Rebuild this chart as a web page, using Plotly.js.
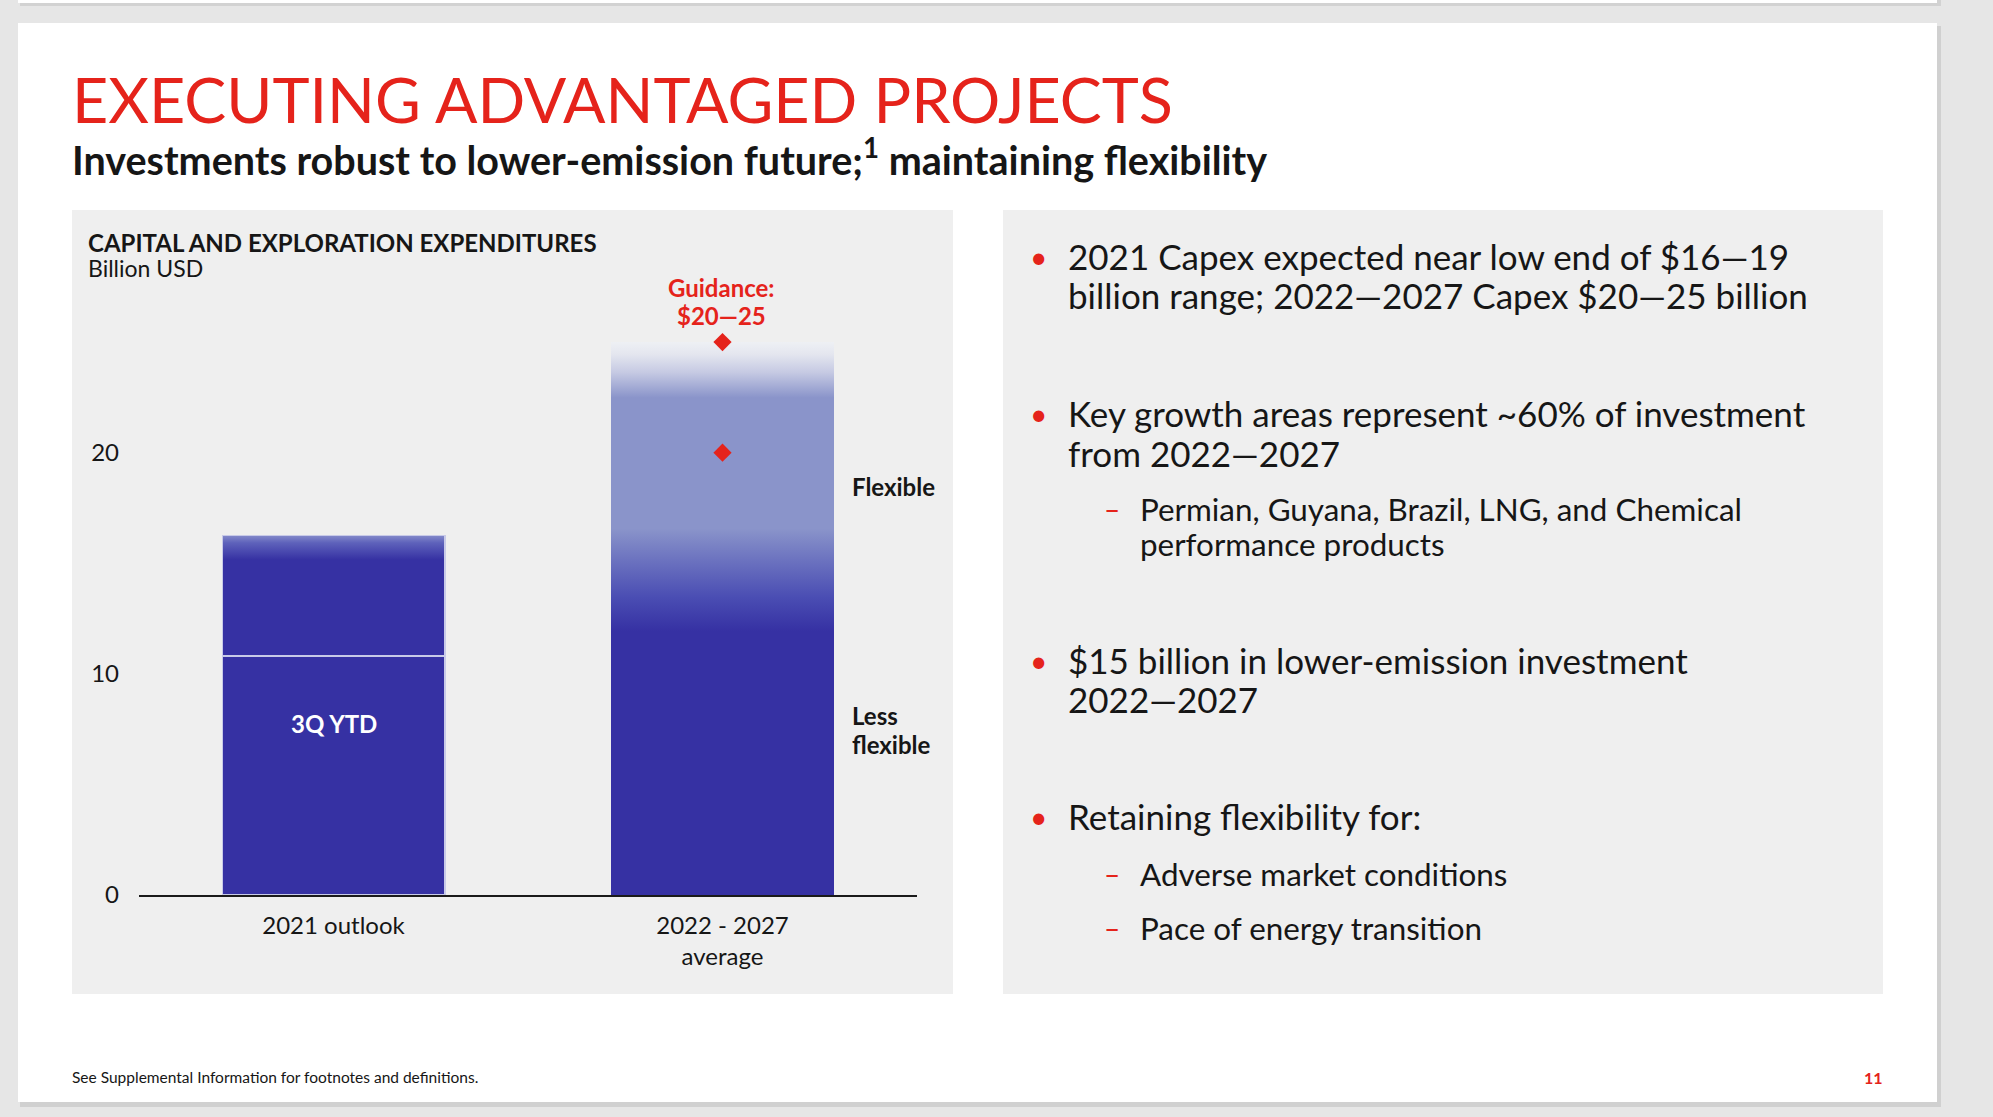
<!DOCTYPE html>
<html>
<head>
<meta charset="utf-8">
<script src="https://cdn.plot.ly/plotly-3.0.1.min.js"></script>
<style>
html,body{margin:0;padding:0;background:#e6e6e6;}
#chart{width:1993px;height:1117px;}
</style>
</head>
<body>
<div id="chart"></div>
<script>
// ---------- DATA ----------
const categories = ['2021 outlook', '2022 - 2027<br>average'];
const lowerValues = [10.8, 11.4];     // 3Q YTD / less flexible (Billion USD)
const upperValues = [5.45, 13.6];     // rest of 2021 outlook / flexible
const guidanceValues = [25, 20];      // guidance range markers
const yTickValues = [0, 10, 20];

const titleText = 'EXECUTING ADVANTAGED PROJECTS';
const subtitleText = 'Investments robust to lower-emission future;<sup>1</sup> maintaining flexibility';
const chartTitle = 'CAPITAL AND EXPLORATION EXPENDITURES';
const unitText = 'Billion USD';
const bullets = [
  ['2021 Capex expected near low end of $16—19', 'billion range; 2022—2027 Capex $20—25 billion'],
  ['Key growth areas represent ~60% of investment', 'from 2022—2027'],
  ['$15 billion in lower-emission investment', '2022—2027'],
  ['Retaining flexibility for:']
];
const subBullets = [
  ['Permian, Guyana, Brazil, LNG, and Chemical', 'performance products'],
  ['Adverse market conditions'],
  ['Pace of energy transition']
];
const footerText = 'See Supplemental Information for footnotes and definitions.';
const pageNumber = '11';

// ---------- STYLE ----------
const FONT = 'Lato, "Noto Sans", sans-serif';
const RED = '#e5231b';
const DARK = '#3631a3';
const LIGHT = '#8a94ca';
const PANEL = '#efefef';
const TXT = '#161616';

// plot area in pixels: x 139..917, y 320..895
const ML = 139, PW = 778, MT = 320, PH = 575;
const W = 1993, H = 1117;
const xp = px => (px - ML) / PW;
const yp = py => (MT + PH - py) / PH;

function ann(text, x, y, size, opts) {
  opts = opts || {};
  return Object.assign({
    text: text, xref: 'paper', yref: 'paper', x: xp(x), y: yp(y),
    xanchor: opts.xanchor || 'left', yanchor: 'middle', showarrow: false,
    font: {family: FONT, size: size, color: opts.color || TXT, weight: opts.weight || 400},
    align: opts.align || 'left'
  }, opts.extra || {});
}

const annotations = [];
annotations.push(ann(titleText, 70, 98, 62.8, {color: RED, weight: 400}));
annotations.push(ann(subtitleText, 70, 157, 39.5, {weight: 700}));
annotations.push(ann(chartTitle, 86, 242, 24, {weight: 700}));
annotations.push(ann(unitText, 86, 268, 23, {weight: 400}));
annotations.push(ann('Guidance:', 721, 287, 24, {xanchor: 'center', color: RED, weight: 700}));
annotations.push(ann('$20—25', 721, 316, 24, {xanchor: 'center', color: RED, weight: 700}));
annotations.push(ann('Flexible', 850, 486, 24, {weight: 700}));
annotations.push(ann('Less', 850, 715, 24, {weight: 700}));
annotations.push(ann('flexible', 850, 744, 24, {weight: 700}));
annotations.push(ann('3Q YTD', 334, 723, 24, {xanchor: 'center', color: '#ffffff', weight: 700}));

// bullets
const bulletY = [[256, 295], [413, 452.5], [659.5, 699], [816]];
bullets.forEach((lines, i) => {
  annotations.push(ann('•', 1038, bulletY[i][0], 30, {xanchor: 'center', color: RED}));
  lines.forEach((ln, j) => annotations.push(ann(ln, 1066, bulletY[i][j], 35, {weight: 400})));
});
const subY = [[509, 544], [874], [928]];
subBullets.forEach((lines, i) => {
  annotations.push(ann('–', 1112, subY[i][0], 28, {xanchor: 'center', color: RED}));
  lines.forEach((ln, j) => annotations.push(ann(ln, 1138, subY[i][j], 31.4, {weight: 400})));
});
annotations.push(ann(footerText, 70, 1077, 15.5, {weight: 400}));
annotations.push(ann(pageNumber, 1873, 1077, 16, {xanchor: 'center', color: RED, weight: 700}));

function rect(x0, y0, x1, y1, color) {
  return {type: 'rect', xref: 'paper', yref: 'paper', layer: 'below',
    x0: xp(x0), x1: xp(x1), y0: yp(y1), y1: yp(y0),
    fillcolor: color, line: {width: 0}};
}
const shapes = [
  rect(20, 0, 1941, 6, '#d2d2d2'),
  rect(18, 0, 1937, 3, '#ffffff'),
  rect(20, 26, 1941, 1107, '#d0d0d0'),
  rect(18, 23, 1937, 1102, '#ffffff'),
  rect(72, 210, 953, 994, PANEL),
  rect(1003, 210, 1883, 994, PANEL)
];

const traces = [
  {type: 'bar', x: categories, y: lowerValues, name: 'Less flexible', width: 0.572,
   marker: {color: DARK, line: {color: '#c8cae8', width: [1.5, 0]}}, hoverinfo: 'skip'},
  {type: 'bar', x: categories, y: upperValues, name: 'Flexible', width: 0.572,
   marker: {color: DARK, line: {color: '#c8cae8', width: [1.5, 0]}}, hoverinfo: 'skip'},
  {type: 'scatter', mode: 'markers', x: [categories[1], categories[1]], y: guidanceValues,
   name: 'Guidance', marker: {symbol: 'diamond', size: 14, color: RED}, hoverinfo: 'skip'}
];

const layout = {
  width: W, height: H,
  margin: {l: ML, r: W - ML - PW, t: MT, b: H - MT - PH, pad: 0},
  paper_bgcolor: '#e6e6e6', plot_bgcolor: 'rgba(0,0,0,0)',
  barmode: 'stack', showlegend: false,
  font: {family: FONT, color: TXT},
  xaxis: {type: 'category', range: [-0.5, 1.5], showgrid: false, zeroline: false,
    showline: true, linecolor: '#1a1a1a', linewidth: 2, ticks: '',
    ticklabelstandoff: 8, tickfont: {family: FONT, size: 24, color: TXT}, fixedrange: true},
  yaxis: {range: [0, 26], tickvals: yTickValues, showgrid: false, zeroline: false,
    showline: false, ticks: '', ticklabelstandoff: 19,
    tickfont: {family: FONT, size: 24, color: TXT}, fixedrange: true},
  shapes: shapes,
  annotations: annotations
};

Plotly.newPlot('chart', traces, layout, {displayModeBar: false, staticPlot: true}).then(gd => {
  const svg = gd.querySelector('.main-svg');
  const defs = svg.querySelector('defs');
  const NS = 'http://www.w3.org/2000/svg';
  function grad(id, stops) {
    const g = document.createElementNS(NS, 'linearGradient');
    g.setAttribute('id', id);
    g.setAttribute('x1', '0'); g.setAttribute('y1', '0');
    g.setAttribute('x2', '0'); g.setAttribute('y2', '1');
    stops.forEach(s => {
      const st = document.createElementNS(NS, 'stop');
      st.setAttribute('offset', s[0]);
      st.setAttribute('stop-color', s[1]);
      g.appendChild(st);
    });
    defs.appendChild(g);
  }
  grad('gradTop1', [[0, '#8389ca'], [0.06, '#5e62bb'], [0.2, DARK], [1, DARK]]);
  grad('gradTop2', [[0, '#eef0f4'], [0.04, '#e4e6ef'], [0.1, '#c6cae3'], [0.185, LIGHT],
                    [0.62, LIGHT], [0.72, '#6d74c0'], [0.85, '#4a4db3'], [0.96, DARK], [1, DARK]]);
  const traceGroups = gd.querySelectorAll('.barlayer .trace');
  const upper = traceGroups[1].querySelectorAll('.point path');
  if (upper[0]) upper[0].style.fill = 'url(#gradTop1)';
  if (upper[1]) upper[1].style.fill = 'url(#gradTop2)';
});
</script>
</body>
</html>
